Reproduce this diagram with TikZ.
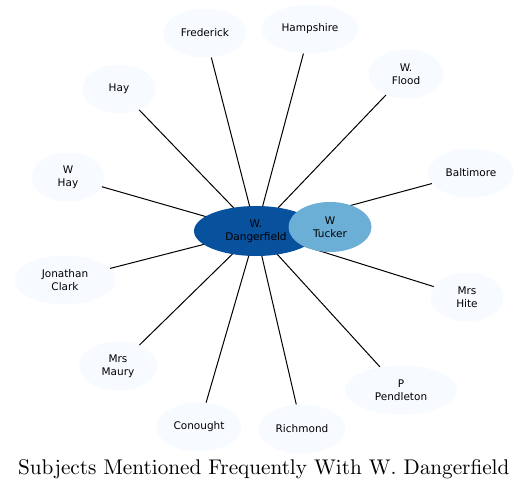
\documentclass[tikz,border=0pt]{standalone}
\usepackage{fontspec}
\usepackage{tikz}
\usetikzlibrary{shapes.geometric}
\newfontfamily\nodefont{DejaVu Sans}
\font\titlefont=cmr10 at 21.3pt
\definecolor{paleblue}{HTML}{F7FBFF}
\definecolor{darkblue}{HTML}{08519C}
\definecolor{midblue}{HTML}{6BAED6}
\pgfdeclarelayer{bg}
\pgfsetlayers{bg,main}

\begin{document}
\begin{tikzpicture}[x=1bp,y=-1bp,
    subject/.style={ellipse, fill=paleblue, inner sep=0pt, minimum height=49bp,
      align=center, font=\nodefont\fontsize{10.5bp}{13bp}\selectfont},
    link/.style={line width=1bp, black}]
  \useasboundingbox (0,0) rectangle (529,490);

  \node[subject, fill=darkblue, minimum width=124bp, minimum height=50bp] (dangerfield) at (256,231) {W.\\Dangerfield};
  \node[subject, fill=midblue, minimum width=83bp, minimum height=50bp] (tucker) at (330,227) {W\\Tucker};

  \node[subject, minimum width=83bp] (frederick) at (205,33) {Frederick};
  \node[subject, minimum width=97bp] (hampshire) at (310,29) {Hampshire};
  \node[subject, minimum width=75bp] (flood) at (406,74) {W.\\Flood};
  \node[subject, minimum width=73bp] (hay) at (119,89) {Hay};
  \node[subject, minimum width=86bp] (baltimore) at (471,173) {Baltimore};
  \node[subject, minimum width=73bp] (whay) at (68,177) {W\\Hay};
  \node[subject, minimum width=101bp] (clark) at (65,280) {Jonathan\\Clark};
  \node[subject, minimum width=73bp] (hite) at (467,297) {Mrs\\Hite};
  \node[subject, minimum width=78bp] (maury) at (118,366) {Mrs\\Maury};
  \node[subject, minimum width=112bp] (pendleton) at (401,390) {P\\Pendleton};
  \node[subject, minimum width=85bp] (conought) at (199,427) {Conought};
  \node[subject, minimum width=87bp] (richmond) at (302,429) {Richmond};

  \begin{pgfonlayer}{bg}
    \foreach \n in {tucker,frederick,hampshire,flood,hay,baltimore,whay,clark,hite,maury,pendleton,conought,richmond}
      \draw[link] (dangerfield.center) -- (\n);
  \end{pgfonlayer}

  \node[anchor=base, inner sep=0pt] (title) at (264,474) {\titlefont Subjects Mentioned Frequently With W. Dangerfield};
\end{tikzpicture}
\end{document}
